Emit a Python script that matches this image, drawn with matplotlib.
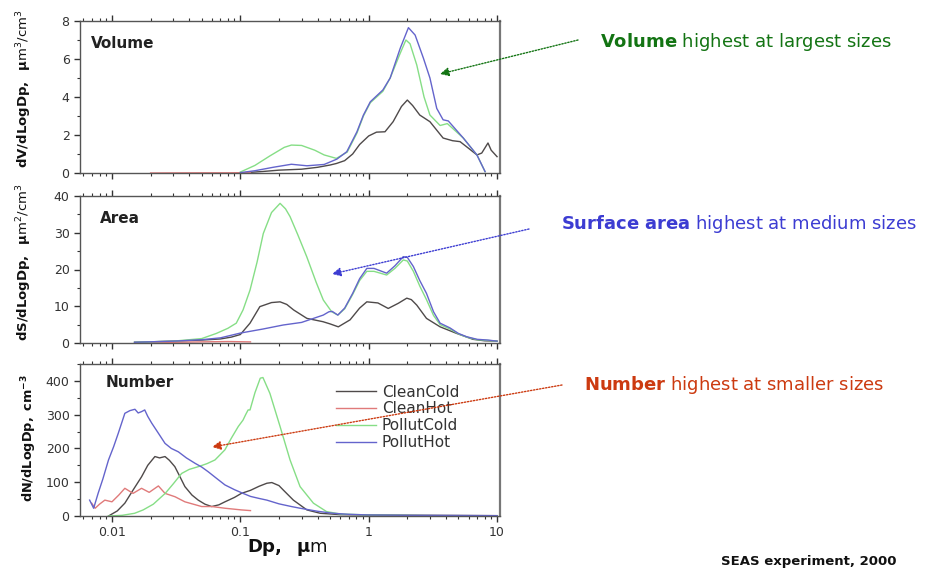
import matplotlib
matplotlib.use('Agg')
import matplotlib.pyplot as plt
from matplotlib.patches import FancyArrowPatch
from matplotlib.ticker import LogLocator, NullFormatter, MultipleLocator

plt.rcParams['font.family'] = ['DejaVu Sans']

series_names = ['CleanCold', 'CleanHot', 'PollutCold', 'PollutHot']
series_colors = ['#4f4a4a', '#e07a7a', '#86de86', '#6464cc']

# ---------------- Volume panel (dV/dLogDp, um3/cm3) ----------------
vol_cc_dp = [0.1, 0.15, 0.2, 0.3, 0.4, 0.5, 0.56, 0.65, 0.75, 0.85, 1.0, 1.15, 1.34, 1.55, 1.8,
             2.0, 2.2, 2.5, 3.0, 3.8, 4.5, 5.15, 6.0, 6.97, 7.6, 8.5, 9.0, 10.0]
vol_cc_v = [0.0, 0.08, 0.15, 0.2, 0.3, 0.42, 0.5, 0.65, 1.0, 1.5, 1.95, 2.15, 2.17, 2.7, 3.5,
            3.84, 3.55, 3.05, 2.7, 1.84, 1.7, 1.65, 1.3, 0.95, 1.05, 1.58, 1.2, 0.86]
vol_ch_dp = [0.02, 0.05, 0.08, 0.12]
vol_ch_v = [0.0, 0.01, 0.01, 0.02]
vol_pc_dp = [0.1, 0.13, 0.17, 0.22, 0.25, 0.3, 0.38, 0.45, 0.56, 0.68, 0.81, 0.91, 1.03, 1.29,
             1.47, 1.76, 1.95, 2.1, 2.37, 2.7, 3.0, 3.6, 4.1, 5.46, 6.97, 8.07]
vol_pc_v = [0.05, 0.4, 0.9, 1.35, 1.47, 1.45, 1.2, 0.95, 0.77, 1.1, 2.1, 3.0, 3.7, 4.3,
            5.0, 6.3, 7.0, 6.8, 5.68, 4.0, 3.05, 2.5, 2.6, 1.84, 0.95, 0.07]
vol_ph_dp = [0.1, 0.13, 0.18, 0.25, 0.33, 0.45, 0.565, 0.675, 0.81, 0.91, 1.03, 1.29, 1.47, 1.76,
             2.04, 2.3, 2.67, 3.0, 3.39, 3.8, 4.17, 5.46, 6.97, 8.07]
vol_ph_v = [0.02, 0.12, 0.3, 0.46, 0.38, 0.45, 0.73, 1.12, 2.17, 3.05, 3.75, 4.37, 5.0, 6.56,
            7.65, 7.26, 6.04, 5.0, 3.4, 2.8, 2.74, 1.84, 0.95, 0.07]

# ---------------- Area panel (dS/dLogDp, um2/cm3) ----------------
area_cc_dp = [0.015, 0.03, 0.05, 0.07, 0.085, 0.1, 0.119, 0.142, 0.175, 0.204, 0.23, 0.26, 0.33,
              0.44, 0.5, 0.58, 0.716, 0.85, 0.967, 1.18, 1.42, 1.7, 1.98, 2.15, 2.37, 2.82, 3.6,
              4.85, 6.5, 8.0, 10.0]
area_cc_v = [0.2, 0.5, 0.8, 1.1, 1.6, 2.3, 5.4, 9.9, 11.0, 11.2, 10.5, 9.0, 6.7,
             5.8, 5.2, 4.4, 6.3, 9.5, 11.2, 10.9, 9.4, 10.8, 12.2, 11.8, 10.3, 6.7, 4.4,
             2.6, 1.0, 0.6, 0.5]
area_ch_dp = [0.02, 0.05, 0.08, 0.12]
area_ch_v = [0.1, 0.3, 0.4, 0.3]
area_pc_dp = [0.015, 0.03, 0.05, 0.065, 0.08, 0.093, 0.105, 0.119, 0.135, 0.151, 0.175, 0.204,
              0.225, 0.244, 0.28, 0.329, 0.39, 0.443, 0.515, 0.575, 0.65, 0.75, 0.85, 0.967,
              1.1, 1.38, 1.6, 1.86, 2.0, 2.23, 2.5, 2.82, 3.2, 3.6, 4.3, 5.0, 5.8, 7.0, 8.5, 10.0]
area_pc_v = [0.2, 0.5, 1.2, 2.6, 4.0, 5.4, 9.0, 14.4, 22.0, 29.8, 35.5, 38.0,
             36.5, 34.4, 29.5, 23.5, 16.5, 11.7, 8.5, 7.6, 9.3, 13.2, 17.0, 19.5,
             19.5, 18.5, 20.3, 22.6, 22.3, 19.5, 15.5, 11.8, 7.5, 5.0, 3.8, 2.5, 1.6, 0.9, 0.7, 0.5]
area_ph_dp = [0.015, 0.03, 0.05, 0.07, 0.1, 0.15, 0.216, 0.3, 0.443, 0.49, 0.52, 0.575, 0.65,
              0.75, 0.85, 0.967, 1.1, 1.38, 1.6, 1.86, 2.0, 2.23, 2.5, 2.82, 3.2, 3.6, 4.3,
              5.0, 5.8, 7.0, 8.5, 10.0]
area_ph_v = [0.2, 0.5, 0.9, 1.4, 2.7, 3.8, 4.9, 5.6, 7.6, 8.5, 8.6, 7.6, 9.5,
             13.5, 17.5, 20.3, 20.3, 19.0, 21.0, 23.5, 23.3, 20.8, 17.0, 13.5, 8.5, 5.4, 4.1,
             2.6, 1.7, 1.0, 0.8, 0.5]

# ---------------- Number panel (dN/dLogDp, cm-3) ----------------
num_cc_dp = [0.0094, 0.011, 0.0126, 0.0145, 0.017, 0.019, 0.0216, 0.0235, 0.0259, 0.028, 0.0309,
             0.034, 0.037, 0.042, 0.047, 0.053, 0.0598, 0.068, 0.0759, 0.09, 0.102, 0.12, 0.14,
             0.161, 0.176, 0.2, 0.216, 0.259, 0.33, 0.42, 0.6, 1.0, 3.0, 10.0]
num_cc_v = [0, 15, 38, 75, 116, 150, 176, 172, 176, 165, 146,
            115, 87, 62, 47, 35, 28, 33, 42, 55, 67, 76, 88,
            97, 99, 90, 77, 47, 18, 8, 4, 3, 2, 1]
num_ch_dp = [0.00695, 0.0074, 0.008, 0.0088, 0.01, 0.0113, 0.0126, 0.0146, 0.017, 0.0195, 0.023,
             0.0259, 0.031, 0.037, 0.05, 0.06, 0.0759, 0.102, 0.12]
num_ch_v = [38, 23, 35, 47, 42, 62, 82, 67, 82, 70, 89,
            67, 57, 42, 28, 28, 23, 18, 16]
num_pc_dp = [0.0094, 0.012, 0.015, 0.0175, 0.021, 0.026, 0.03, 0.0349, 0.04, 0.047, 0.055, 0.0635,
             0.0759, 0.085, 0.0964, 0.105, 0.11, 0.115, 0.119, 0.13, 0.143, 0.15, 0.17, 0.204,
             0.244, 0.292, 0.371, 0.47, 0.6, 1.0, 3.0, 10.0]
num_pc_v = [0, 2, 8, 18, 35, 67, 95, 126, 138, 146, 155, 166,
            196, 230, 265, 284, 300, 314, 314, 365, 408, 410, 363, 265,
            166, 87, 38, 13, 6, 3, 1, 0.5]
num_ph_dp = [0.0067, 0.0072, 0.0078, 0.0085, 0.0094, 0.0103, 0.0112, 0.0126, 0.0138, 0.0151, 0.016,
             0.017, 0.018, 0.019, 0.0204, 0.023, 0.0259, 0.029, 0.0329, 0.038, 0.0444, 0.05,
             0.0562, 0.065, 0.0759, 0.09, 0.105, 0.12, 0.14, 0.161, 0.2, 0.25, 0.292, 0.4,
             0.53, 0.7, 1.0, 2.0, 5.0, 10.0]
num_ph_v = [47, 23, 67, 110, 166, 205, 245, 304, 312, 316, 305,
            309, 314, 295, 275, 245, 215, 200, 190, 172, 156, 145,
            131, 112, 92, 78, 67, 58, 52, 47, 36, 28, 23, 14,
            8, 5, 3, 2, 1.5, 1]

xtick_vals = [0.01, 0.1, 1, 10]
xtick_labels = ['0.01', '0.1', '1', '10']

W, H = 928, 571
fig = plt.figure(figsize=(W / 100, H / 100), dpi=100)


def fx(px):
    return px / W


def fy(py):
    return 1 - py / H


def make_ax(top, bottom):
    return fig.add_axes([fx(80), fy(bottom), fx(500) - fx(80), fy(top) - fy(bottom)])


ax_v = make_ax(21, 173)
ax_s = make_ax(196, 343)
ax_n = make_ax(364, 516)

panels = [
    (ax_v, [(vol_cc_dp, vol_cc_v), (vol_ch_dp, vol_ch_v), (vol_pc_dp, vol_pc_v), (vol_ph_dp, vol_ph_v)],
     (0, 8), 2, 1, 'Volume', (0.025, 0.85)),
    (ax_s, [(area_cc_dp, area_cc_v), (area_ch_dp, area_ch_v), (area_pc_dp, area_pc_v), (area_ph_dp, area_ph_v)],
     (0, 40), 10, 5, 'Area', (0.048, 0.85)),
    (ax_n, [(num_cc_dp, num_cc_v), (num_ch_dp, num_ch_v), (num_pc_dp, num_pc_v), (num_ph_dp, num_ph_v)],
     (0, 450), 100, 50, 'Number', (0.06, 0.88)),
]

spine_col = '#555555'
for ax, data, ylim, major, minor, label, lpos in panels:
    for (dp, v), name, col in zip(data, series_names, series_colors):
        ax.plot(dp, v, color=col, lw=1.0, label=name)
    ax.set_xscale('log')
    ax.set_xlim(10 ** -2.249, 10 ** 1.023)
    ax.set_ylim(*ylim)
    ax.yaxis.set_major_locator(MultipleLocator(major))
    ax.yaxis.set_minor_locator(MultipleLocator(minor))
    ax.set_xticks(xtick_vals)
    ax.set_xticklabels(xtick_labels)
    ax.xaxis.set_minor_locator(LogLocator(base=10, subs=range(2, 10), numticks=20))
    ax.xaxis.set_minor_formatter(NullFormatter())
    ax.tick_params(axis='x', which='both', top=True, bottom=True, direction='out',
                   colors='#333333', labelsize=9)
    ax.tick_params(axis='x', which='major', length=4, width=1)
    ax.tick_params(axis='x', which='minor', length=2.5, width=0.8)
    ax.tick_params(axis='y', which='both', left=True, right=False, direction='out',
                   colors='#333333', labelsize=9)
    ax.tick_params(axis='y', which='major', length=4, width=1)
    ax.tick_params(axis='y', which='minor', length=2.5, width=0.8)
    for s in ax.spines.values():
        s.set_color(spine_col)
        s.set_linewidth(1.0)
    ax.spines['right'].set_linewidth(1.6)
    ax.spines['right'].set_color('#777777')
    ax.text(lpos[0], lpos[1], label, transform=ax.transAxes,
            fontsize=11, fontweight='bold', color='#222222', ha='left', va='center')
    if ax is not ax_n:
        ax.tick_params(axis='x', which='both', labelbottom=False)

# Legend in number panel
leg = ax_n.legend(loc='upper left', bbox_to_anchor=(0.595, 0.905), frameon=False,
                  fontsize=11, handlelength=2.6, handletextpad=0.4, labelspacing=0.12,
                  borderaxespad=0)
for t in leg.get_texts():
    t.set_color('#333333')

# Y labels
fig.text(fx(24), fy(89), r"$\mathbf{dV/dLogDp,}$  $\mathbf{\mu}$m$^3$/cm$^3$", rotation=90,
         ha='center', va='center', fontsize=9.5, color='#111111')
fig.text(fx(24), fy(262), r"$\mathbf{dS/dLogDp,}$  $\mathbf{\mu}$m$^2$/cm$^3$", rotation=90,
         ha='center', va='center', fontsize=9.5, color='#111111')
fig.text(fx(29), fy(438), r"$\mathbf{dN/dLogDp,\ cm^{-3}}$", rotation=90,
         ha='center', va='center', fontsize=9.3, color='#111111')

# X label
fig.text(fx(287), fy(548), r"$\mathbf{Dp,}$  $\mathbf{\mu}$m", ha='center', va='center',
         fontsize=13, color='#111111')

# Annotations
ann_green = '#137413'
ann_blue = '#3c3cd2'
ann_red = '#cc3a10'
fig.text(fx(600), fy(42), r"$\mathbf{Volume}$ highest at largest sizes", ha='left', va='center',
         fontsize=13, color=ann_green)
fig.text(fx(561), fy(224), r"$\mathbf{Surface\ area}$ highest at medium sizes", ha='left',
         va='center', fontsize=13, color=ann_blue)
fig.text(fx(584), fy(385), r"$\mathbf{Number}$ highest at smaller sizes", ha='left', va='center',
         fontsize=13, color=ann_red)

for (x0, y0), (x1, y1), col in [((578, 40), (440, 74), ann_green),
                                ((529, 229), (332, 274), ann_blue),
                                ((562, 385), (212, 447), ann_red)]:
    arr = FancyArrowPatch((fx(x0), fy(y0)), (fx(x1), fy(y1)), transform=fig.transFigure,
                          arrowstyle='-|>', mutation_scale=13, linestyle=(0, (1, 1.2)),
                          color=col, lw=1.0, shrinkA=0, shrinkB=0)
    fig.add_artist(arr)

fig.text(fx(897), fy(561), 'SEAS experiment, 2000', ha='right', va='center', fontsize=9.5,
         fontweight='bold', color='#111111')

fig.savefig('out.png', dpi=100, facecolor='white')
